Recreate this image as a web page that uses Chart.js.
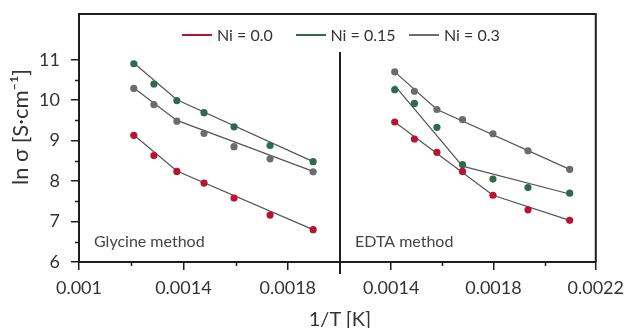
<!DOCTYPE html>
<html>
<head>
<meta charset="utf-8">
<script src="https://cdn.jsdelivr.net/npm/chart.js@4.4.1/dist/chart.umd.min.js"></script>
<style>
  html, body { margin: 0; padding: 0; background: #fff; }
  #wrap { position: relative; width: 631px; height: 328px; font-family: 'Lato', sans-serif; color: #333; }
  #wrap canvas { position: absolute; left: 0; top: 0; }
  #legend { position: absolute; left: 182px; top: 25px; display: flex; font-size: 16px; line-height: 20px; }
  #legend .item { width: 113.5px; display: flex; align-items: center; }
  #legend .swatch { width: 30px; height: 2px; margin-right: 5px; }
  #x-title { position: absolute; left: 0; width: 680px; top: 306px; text-align: center; font-size: 20px; line-height: 24px; }
</style>
</head>
<body>
<div id="wrap">
  <canvas id="glycine" width="631" height="328"></canvas>
  <canvas id="edta" width="631" height="328"></canvas>
  <div id="legend"></div>
  <div id="x-title">1/T [K]</div>
</div>
<script>
// Series
const seriesNames = ['Ni = 0.0', 'Ni = 0.15', 'Ni = 0.3'];
const seriesColors = ['#b8142f', '#2e6b4e', '#6c6c6c'];
const FIT_COLOR = '#555555';
const AXIS_COLOR = '#1e1e1e';
const TEXT_COLOR = '#333333';
const Y_TITLE = 'ln σ [S·cm⁻¹]';

// Glycine method (left panel)
const glyX = [0.00121, 0.001287, 0.001375, 0.001479, 0.001594, 0.001732, 0.001897];
const glyNi00 = [9.13, 8.63, 8.24, 7.95, 7.58, 7.16, 6.80];
const glyNi015 = [10.90, 10.40, 9.99, 9.69, 9.34, 8.88, 8.48];
const glyNi03 = [10.29, 9.89, 9.48, 9.18, 8.85, 8.55, 8.23];
// fit lines (two linear segments each)
const glyFitX = [0.00121, 0.001375, 0.001897];
const glyFitNi00 = [9.14, 8.25, 6.80];
const glyFitNi015 = [10.92, 10.01, 8.48];
const glyFitNi03 = [10.30, 9.50, 8.24];

// EDTA method (right panel)
const edtaX = [0.001414, 0.001491, 0.001579, 0.001679, 0.001798, 0.001935, 0.002098];
const edtaNi00 = [9.46, 9.04, 8.71, 8.24, 7.65, 7.29, 7.03];
const edtaNi015 = [10.26, 9.92, 9.33, 8.41, 8.05, 7.84, 7.70];
const edtaNi03 = [10.70, 10.22, 9.77, 9.52, 9.17, 8.75, 8.29];
const edtaFitXNi00 = [0.001414, 0.001798, 0.002098];
const edtaFitNi00 = [9.46, 7.65, 7.03];
const edtaFitXNi015 = [0.001414, 0.001679, 0.002098];
const edtaFitNi015 = [10.36, 8.37, 7.68];
const edtaFitXNi03 = [0.001414, 0.001579, 0.002098];
const edtaFitNi03 = [10.70, 9.77, 8.29];

// Axes
const Y_MIN = 6, Y_MAX = 12.13;
const yTicks = [6, 7, 8, 9, 10, 11];
const yMinor = [6.5, 7.5, 8.5, 9.5, 10.5];
const glyRange = [0.001, 0.002];
const glyTicks = [0.001, 0.0014, 0.0018];
const glyTickLabels = ['0.001', '0.0014', '0.0018'];
const glyMinor = [0.0012, 0.0016];
const edtaRange = [0.0012, 0.0022];
const edtaTicks = [0.0014, 0.0018, 0.0022];
const edtaTickLabels = ['0.0014', '0.0018', '0.0022'];
const edtaMinor = [0.0016, 0.002];

const toPoints = (xs, ys) => xs.map((x, i) => ({ x: x, y: ys[i] }));

function panelDatasets(xs, ys, fitXs, fitYs) {
    const sets = [];
    seriesNames.forEach((name, i) => {
        sets.push({
            label: name,
            data: toPoints(xs, ys[i]),
            backgroundColor: seriesColors[i],
            borderColor: seriesColors[i],
            borderWidth: 0,
            pointRadius: 3.6,
            showLine: false,
            order: 0
        });
        sets.push({
            label: name + ' fit',
            data: toPoints(fitXs[i], fitYs[i]),
            borderColor: FIT_COLOR,
            borderWidth: 1.2,
            pointRadius: 0,
            showLine: true,
            order: 1
        });
    });
    return sets;
}

// minor ticks, frame, divider, y title and panel caption
const decorPlugin = {
    id: 'decor',
    afterDraw(chart, args, opts) {
        const ctx = chart.ctx;
        const area = chart.chartArea;
        const xs = chart.scales.x;
        const ys = chart.scales.y;
        ctx.save();
        ctx.strokeStyle = AXIS_COLOR;
        ctx.lineWidth = 1.5;
        (opts.xMinor || []).forEach(v => {
            const px = Math.round(xs.getPixelForValue(v)) + 0.5;
            ctx.beginPath(); ctx.moveTo(px, area.bottom); ctx.lineTo(px, area.bottom + 4); ctx.stroke();
        });
        (opts.yMinor || []).forEach(v => {
            const py = Math.round(ys.getPixelForValue(v)) + 0.5;
            ctx.beginPath(); ctx.moveTo(area.left, py); ctx.lineTo(area.left - 4, py); ctx.stroke();
        });
        ctx.lineWidth = 2;
        ctx.beginPath();
        ctx.moveTo(area.left, area.top);
        ctx.lineTo(area.right, area.top);
        if (opts.rightBorder) ctx.lineTo(area.right, area.bottom);
        ctx.stroke();
        if (opts.divider) {
            ctx.beginPath();
            ctx.moveTo(area.left, 52);
            ctx.lineTo(area.left, area.bottom + 12);
            ctx.stroke();
        }
        ctx.fillStyle = '#444';
        ctx.font = '16px Lato, sans-serif';
        ctx.textBaseline = 'middle';
        ctx.fillText(opts.caption, area.left + 15, area.bottom - 20);
        if (opts.yTitle) {
            ctx.translate(21, 127);
            ctx.rotate(-Math.PI / 2);
            ctx.textAlign = 'center';
            ctx.fillStyle = TEXT_COLOR;
            ctx.font = '22px Lato, sans-serif';
            ctx.fillText(opts.yTitle, 0, 0);
        }
        ctx.restore();
    }
};

function xScale(range, ticks, labels) {
    return {
        type: 'linear',
        min: range[0],
        max: range[1],
        afterBuildTicks: s => { s.ticks = ticks.map(v => ({ value: v })); },
        afterFit: s => { s.height = 66; },
        ticks: {
            autoSkip: false, maxRotation: 0, padding: 7,
            color: TEXT_COLOR, font: { family: 'Lato', size: 18 },
            callback: (v, i) => labels[i]
        },
        grid: { drawOnChartArea: false, drawTicks: true, tickLength: 8, color: AXIS_COLOR, lineWidth: 1.5 },
        border: { display: true, color: AXIS_COLOR, width: 2 }
    };
}

function yScale(show) {
    const scale = {
        display: show,
        min: Y_MIN,
        max: Y_MAX,
        afterBuildTicks: s => { s.ticks = yTicks.map(v => ({ value: v })); },
        ticks: { padding: 11, color: TEXT_COLOR, font: { family: 'Lato', size: 18 } },
        grid: { drawOnChartArea: false, drawTicks: true, tickLength: 8, color: AXIS_COLOR, lineWidth: 1.5 },
        border: { display: true, color: AXIS_COLOR, width: 2 }
    };
    // keep both panels on the same vertical extent
    if (show) scale.afterFit = s => { s.width = 79; s.paddingTop = 0; s.paddingBottom = 0; };
    return scale;
}

function makeChart(id, datasets, xs, showY, pad, decor) {
    return new Chart(document.getElementById(id), {
        type: 'scatter',
        data: { datasets: datasets },
        options: {
            responsive: false,
            animation: false,
            layout: { padding: pad },
            plugins: { legend: { display: false }, tooltip: { enabled: false }, decor: decor },
            scales: { x: xs, y: yScale(showY) }
        },
        plugins: [decorPlugin]
    });
}

makeChart('glycine',
    panelDatasets(glyX, [glyNi00, glyNi015, glyNi03], [glyFitX, glyFitX, glyFitX], [glyFitNi00, glyFitNi015, glyFitNi03]),
    xScale(glyRange, glyTicks, glyTickLabels), true,
    { left: 0, top: 14, right: 631 - 340, bottom: 0 },
    { xMinor: glyMinor, yMinor: yMinor, caption: 'Glycine method', yTitle: Y_TITLE });

makeChart('edta',
    panelDatasets(edtaX, [edtaNi00, edtaNi015, edtaNi03], [edtaFitXNi00, edtaFitXNi015, edtaFitXNi03], [edtaFitNi00, edtaFitNi015, edtaFitNi03]),
    xScale(edtaRange, edtaTicks, edtaTickLabels), false,
    { left: 340, top: 14, right: 31, bottom: 0 },
    { xMinor: edtaMinor, rightBorder: true, divider: true, caption: 'EDTA method' });

// Legend
const legendBox = document.getElementById('legend');
seriesNames.forEach((name, i) => {
    const item = document.createElement('div');
    item.className = 'item';
    item.innerHTML = '<span class="swatch" style="background:' + seriesColors[i] + '"></span><span>' + name + '</span>';
    legendBox.appendChild(item);
});
</script>
</body>
</html>
